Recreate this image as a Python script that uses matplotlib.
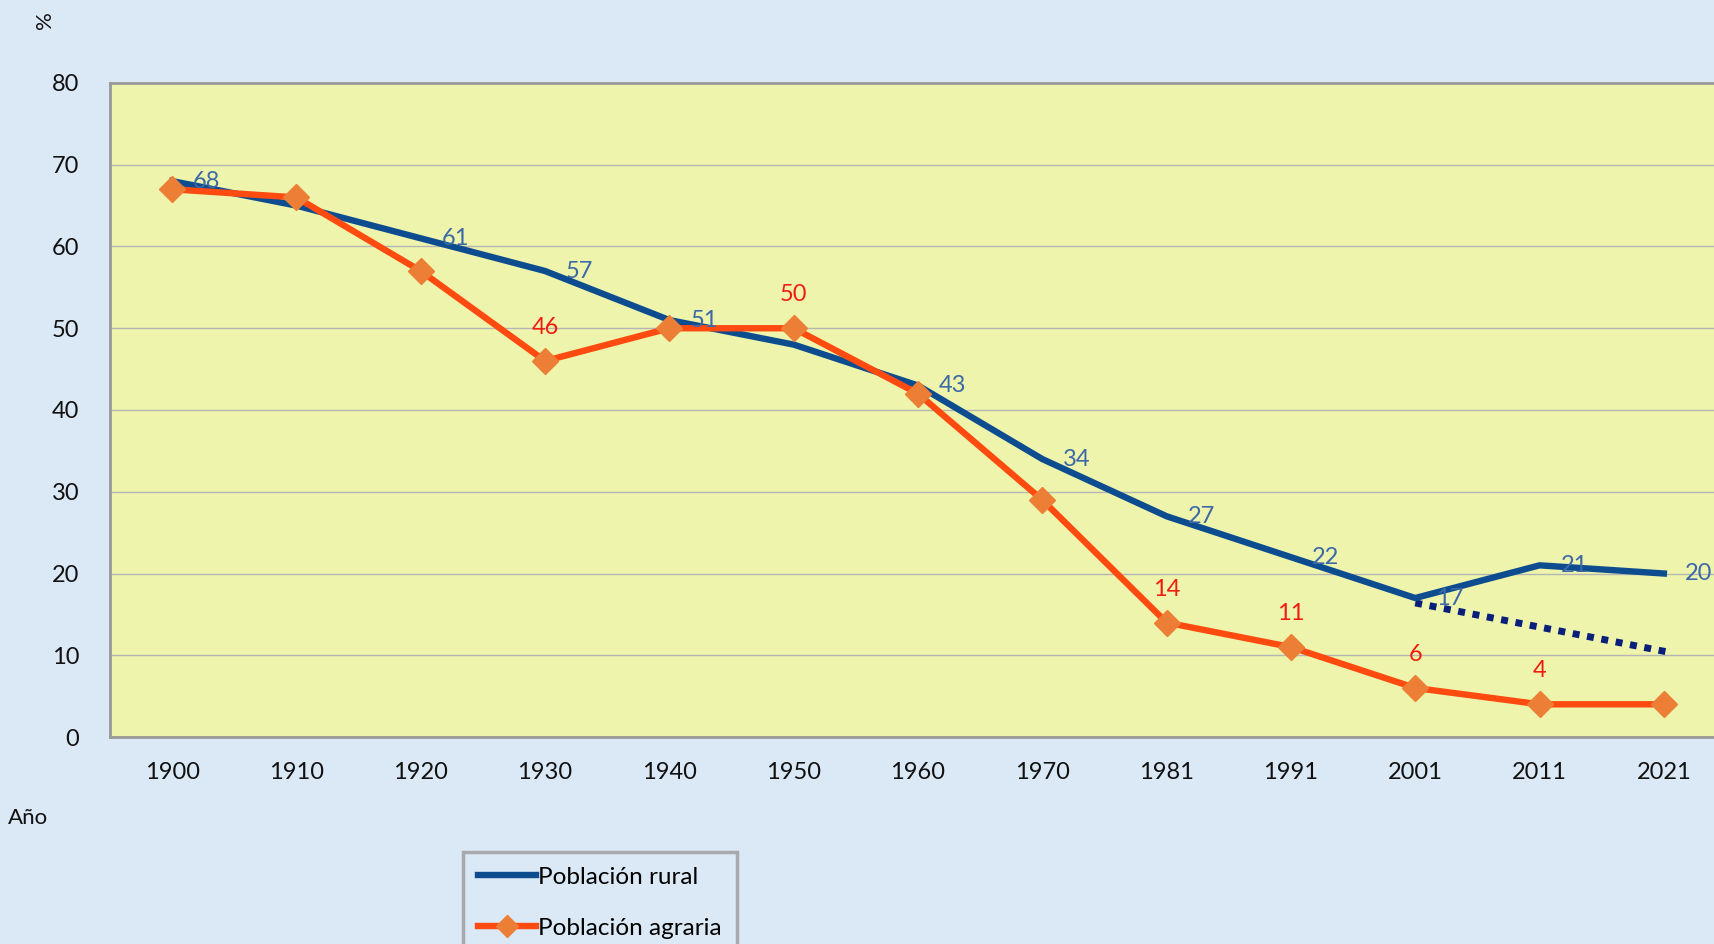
import numpy as np
import matplotlib
matplotlib.use("Agg")
from matplotlib import pyplot as plt

years = ["1900", "1910", "1920", "1930", "1940", "1950", "1960",
         "1970", "1981", "1991", "2001", "2011", "2021"]
rural = [68, 65, 61, 57, 51, 48, 43, 34, 27, 22, 17, 21, 20]
agraria = [67, 66, 57, 46, 50, 50, 42, 29, 14, 11, 6, 4, 4]
# which points carry a value label
rural_labeled = [0, 2, 3, 4, 6, 7, 8, 9, 10, 11, 12]
agraria_labeled = [3, 5, 8, 9, 10, 11]
# dotted trend after 2001 (start/end category index and value)
trend_x = [10, 12.03]
trend_y = [16.4, 10.4]

plt.rcParams['font.family'] = ['Lato', 'DejaVu Sans']

fig = plt.figure(figsize=(17.14, 9.44), dpi=100)
fig.patch.set_facecolor('#dbe8f5')

W, H = 1714.0, 944.0
ax = fig.add_axes([110 / W, 1 - 737 / H, (1726 - 110) / W, (737 - 83) / H])
ax.set_facecolor('#eef4ab')

x = np.arange(len(years))
ax.plot(x, rural, color='#0d4d8f', lw=4.6, solid_joinstyle='round', zorder=3)
ax.plot(x, agraria, color='#ff4a10', lw=4.6, marker='D', ms=13,
        mfc='#ec7f35', mec='#ec7f35', zorder=4)
ax.plot(trend_x, trend_y, color='#0a1f7a', lw=5, ls=(0, (1, 1.1)), zorder=2)

for i in rural_labeled:
    ax.annotate(str(rural[i]), (x[i], rural[i]), xytext=(25, 0),
                textcoords='offset points', ha='center', va='center',
                fontsize=17, color='#3c68a8', zorder=5)
for i in agraria_labeled:
    ax.annotate(str(agraria[i]), (x[i], agraria[i]), xytext=(0, 24),
                textcoords='offset points', ha='center', va='center',
                fontsize=17, color='#f01e10', zorder=5)

ax.set_xlim(-0.5, len(years) - 0.5)
ax.set_ylim(0, 80)
ax.set_yticks(range(0, 81, 10))
ax.set_xticks(x)
ax.set_xticklabels(years)
ax.tick_params(axis='both', length=0, labelsize=17, colors='#111111')
ax.tick_params(axis='x', pad=18)
ax.tick_params(axis='y', pad=22)
ax.grid(axis='y', color='#b5b5b5', lw=1)
ax.set_axisbelow(True)
for s in ax.spines.values():
    s.set_color('#999999')
    s.set_linewidth(2)

fig.text(45 / W, 1 - 20 / H, '%', rotation=90, fontsize=16,
         ha='center', va='center', color='#111111')
fig.text(8 / W, 1 - 818 / H, 'Año', fontsize=16, ha='left', va='center',
         color='#111111')

leg = fig.legend(
    [plt.Line2D([], [], color='#0d4d8f', lw=4.6),
     plt.Line2D([], [], color='#ff4a10', lw=4.6, marker='D', ms=11,
                mfc='#ec7f35', mec='#ec7f35')],
    ['Población rural', 'Población agraria'],
    loc='upper left', bbox_to_anchor=(463 / W, 1 - 852 / H),
    borderaxespad=0, fontsize=17.5, frameon=True, fancybox=False,
    handlelength=2.4, handletextpad=0.1, labelspacing=1.25, borderpad=0.6)
leg.get_frame().set_edgecolor('#9a9a9a')
leg.get_frame().set_linewidth(2.5)
leg.get_frame().set_facecolor('#dbe8f5')

fig.savefig('out.png', dpi=100, facecolor=fig.get_facecolor())
